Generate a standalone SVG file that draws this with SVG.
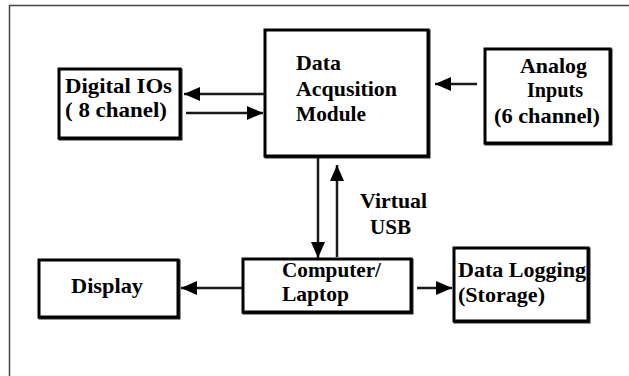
<svg xmlns="http://www.w3.org/2000/svg" width="629" height="376" viewBox="0 0 629 376">
  <style>
    .box { fill: #ffffff; stroke: #000000; stroke-width: 3; }
    .shade { fill: none; stroke: #222222; stroke-width: 3; }
    .lbl { font-family: "Liberation Serif", "DejaVu Serif", serif; font-weight: 700; font-size: 22px; fill: #000000; }
    .wire { stroke: #1a1a1a; stroke-width: 2.5; fill: none; marker-end: url(#head); }
    .frame { fill: none; stroke: #444444; stroke-width: 1.5; }
  </style>
  <defs>
    <marker id="head" markerUnits="userSpaceOnUse" markerWidth="16" markerHeight="14" refX="16" refY="7" orient="auto">
      <path d="M0,0 L16,7 L0,14 z" fill="#000000"/>
    </marker>
  </defs>

  <rect width="629" height="376" fill="#ffffff"/>
  <!-- outer frame (runs off the right and bottom edges) -->
  <rect class="frame" x="9.5" y="5.5" width="640" height="400"/>

  <g id="daq">
    <rect class="shade" x="266" y="31" width="163" height="126"/>
    <rect class="box" x="265" y="30" width="163" height="126"/>
    <text class="lbl" x="296" y="70" textLength="45" lengthAdjust="spacingAndGlyphs">Data</text>
    <text class="lbl" x="296" y="96" textLength="101" lengthAdjust="spacingAndGlyphs">Acqusition</text>
    <text class="lbl" x="296" y="121" textLength="70" lengthAdjust="spacingAndGlyphs">Module</text>
  </g>

  <g id="digital-io">
    <rect class="shade" x="60" y="70" width="121" height="69"/>
    <rect class="box" x="59" y="69" width="121" height="69"/>
    <text class="lbl" x="65" y="93" textLength="107" lengthAdjust="spacingAndGlyphs">Digital IOs</text>
    <text class="lbl" x="65" y="117" textLength="102" lengthAdjust="spacingAndGlyphs">( 8 chanel)</text>
  </g>

  <g id="analog-inputs">
    <rect class="shade" x="486" y="50" width="125" height="94"/>
    <rect class="box" x="485" y="49" width="125" height="94"/>
    <text class="lbl" x="520" y="73" textLength="67" lengthAdjust="spacingAndGlyphs">Analog</text>
    <text class="lbl" x="527" y="97" textLength="56" lengthAdjust="spacingAndGlyphs">Inputs</text>
    <text class="lbl" x="494" y="123" textLength="106" lengthAdjust="spacingAndGlyphs">(6 channel)</text>
  </g>

  <g id="computer">
    <rect class="shade" x="244" y="260" width="168" height="53"/>
    <rect class="box" x="243" y="259" width="168" height="53"/>
    <text class="lbl" x="282" y="277" textLength="99" lengthAdjust="spacingAndGlyphs">Computer/</text>
    <text class="lbl" x="282" y="301" textLength="67" lengthAdjust="spacingAndGlyphs">Laptop</text>
  </g>

  <g id="display">
    <rect class="shade" x="40" y="261" width="139" height="57"/>
    <rect class="box" x="39" y="260" width="139" height="57"/>
    <text class="lbl" x="71" y="293" textLength="72" lengthAdjust="spacingAndGlyphs">Display</text>
  </g>

  <g id="data-logging">
    <rect class="shade" x="455" y="249" width="134" height="73"/>
    <rect class="box" x="454" y="248" width="134" height="73"/>
    <text class="lbl" x="458" y="277" textLength="128" lengthAdjust="spacingAndGlyphs">Data Logging</text>
    <text class="lbl" x="458" y="302" textLength="87" lengthAdjust="spacingAndGlyphs">(Storage)</text>
  </g>

  <g id="usb-label">
    <text class="lbl" x="360" y="208" textLength="67" lengthAdjust="spacingAndGlyphs">Virtual</text>
    <text class="lbl" x="370" y="234" textLength="41" lengthAdjust="spacingAndGlyphs">USB</text>
  </g>

  <g id="connectors">
    <line class="wire" x1="265" y1="94" x2="184" y2="94"/>
    <line class="wire" x1="186" y1="113" x2="263" y2="113"/>
    <line class="wire" x1="477" y1="84" x2="435" y2="84"/>
    <line class="wire" x1="318" y1="158" x2="318" y2="258"/>
    <line class="wire" x1="337" y1="257" x2="337" y2="165"/>
    <line class="wire" x1="242" y1="288" x2="181" y2="288"/>
    <line class="wire" x1="417" y1="288" x2="452" y2="288"/>
  </g>
</svg>
